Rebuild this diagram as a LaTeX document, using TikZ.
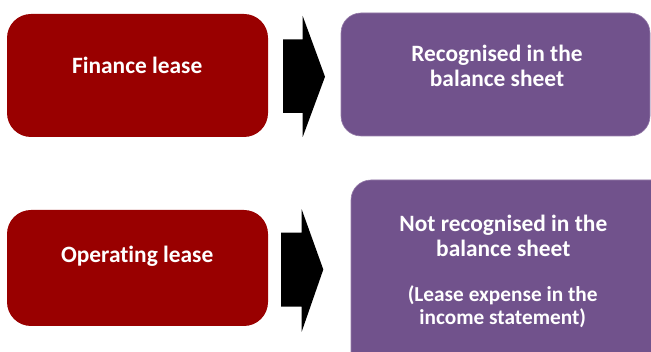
\documentclass[tikz,border=0pt]{standalone}
\usepackage{fontspec}
\setmainfont{Carlito}[Ligatures=NoCommon]
\definecolor{leasered}{RGB}{153,0,0}
\definecolor{leasepurple}{RGB}{113,82,140}
\definecolor{purpleedge}{RGB}{150,125,170}
\begin{document}
\begin{tikzpicture}[x=1pt,y=-1pt,
  redbox/.style={fill=leasered, draw=none, rounded corners=24pt, inner sep=0pt},
  purplebox/.style={fill=leasepurple, draw=purpleedge, line width=0.6pt, rounded corners=20pt, inner sep=0pt},
  boxtext/.style={text=white, font=\bfseries\fontsize{23.4}{25}\selectfont, align=center, inner sep=0pt, anchor=base},
  smalltext/.style={boxtext, font=\bfseries\fontsize{21.3}{23.3}\selectfont},
  arrowshape/.style={fill=black}]
\useasboundingbox (0,0) rectangle (651,352);
\clip (0,0) rectangle (651,352);
% boxes
\path[redbox] (7,14) rectangle (268,137);
\node[boxtext] (fin) at (137.2,73.3) {Finance lease};
\path[purplebox] (341,13) rectangle (650,136);
\node[boxtext] (rec) at (497,86.7) {Recognised in the\\balance sheet};
\path[redbox] (7,210) rectangle (268,326);
\node[boxtext] (op) at (137.2,262.3) {Operating lease};
\path[purplebox] (351,180) rectangle (675,380);
\node[boxtext] (notrec) at (503.3,256.7) {Not recognised in the\\balance sheet};
\node[smalltext] (exp) at (502.7,325) {(Lease expense in the\\income statement)};
% arrows
\fill[arrowshape] (283,39.3) -- (302.7,39.3) -- (302.7,16) -- (325,76.7) -- (302.7,137) -- (302.7,113) -- (283,113) -- cycle;
\fill[arrowshape] (281,232.7) -- (301.7,232.7) -- (301.7,209.3) -- (323.3,269.5) -- (301.7,331.7) -- (301.7,306.7) -- (281,306.7) -- cycle;
\end{tikzpicture}
\end{document}
